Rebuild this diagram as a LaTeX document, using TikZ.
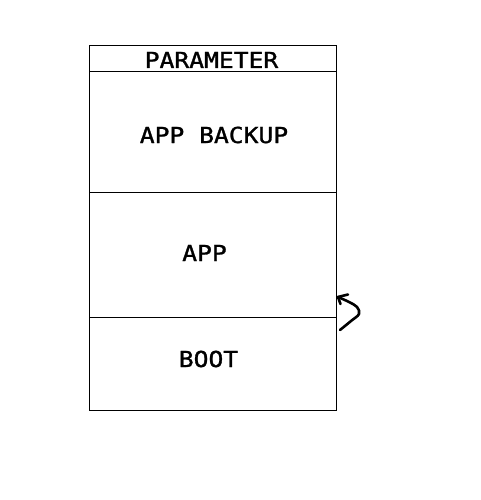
\documentclass[tikz,border=0pt]{standalone}
\usepackage{fontspec}
\usepackage{graphicx}
\newfontfamily\labelfont[FakeBold=1.2]{DejaVu Sans Mono}
\begin{document}
\begin{tikzpicture}[x=1pt,y=-1pt,
  frame/.style={draw=black,line width=1pt},
  lbl/.style={anchor=base,inner sep=0pt,font=\labelfont\fontsize{22}{22}\selectfont},
  pen/.style={draw=black,line width=2.6pt,line cap=round,line join=round}]
\useasboundingbox (0,0) rectangle (480,500);
\coordinate (tl) at (89,46);
\coordinate (br) at (336,410);
\draw[frame] (tl) rectangle (br);
\draw[frame] (89,72) -- (336,72);
\draw[frame] (89,192) -- (336,192);
\draw[frame] (89,317) -- (336,317);
\node[lbl] (param) at (211.5,68) {\scalebox{1.12}[1]{PARAMETER}};
\node[lbl] (backup) at (214,143) {\scalebox{1.12}[1]{APP BACKUP}};
\node[lbl] (app) at (204.5,261) {\scalebox{1.12}[1]{APP}};
\node[lbl] (boot) at (208.5,367) {\scalebox{1.12}[1]{BOOT}};
\coordinate (tail) at (340,330);
\coordinate (tip) at (338,297);
\draw[pen] plot[smooth,tension=0.6] coordinates {(340,330) (351,321) (359,314) (357,307) (349,302) (338,297)};
\draw[pen] (tip) -- (348,294.5);
\draw[pen] (tip) -- (340.5,304);
\end{tikzpicture}
\end{document}
